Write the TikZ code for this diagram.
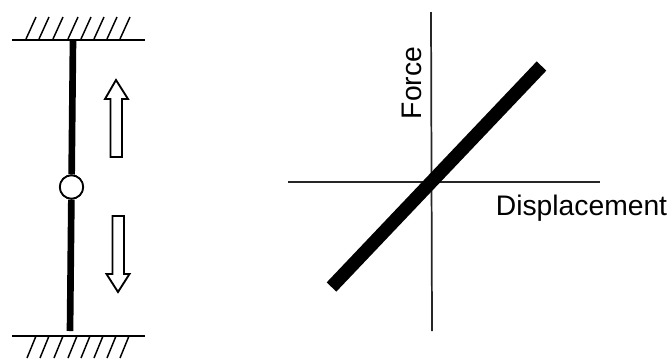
\documentclass[tikz,border=0pt]{standalone}
\usepackage{fontspec}
\setmainfont{Liberation Sans}
\usetikzlibrary{positioning,calc}
\tikzset{plate/.style={line width=1.4pt,draw=black},
  hatch/.style={line width=1.1pt,draw=black},
  rod/.style={line width=5pt,draw=black},
  axis/.style={line width=1.3pt,draw=black!85},
  load/.style={line width=1.4pt,draw=black,fill=white,line join=miter},
  hinge/.style={circle,draw=black,line width=1.3pt,fill=white,minimum size=17.5pt,inner sep=0pt},
  label/.style={font=\fontsize{21.2pt}{24pt}\selectfont,inner sep=0pt}}

\begin{document}
\begin{tikzpicture}[x=0.75pt,y=-0.75pt]
\useasboundingbox (0,0) rectangle (670,358);
% supports
\draw[plate] (12,40) -- (145,40);
\draw[plate] (12,336) -- (145,336);
\foreach \x in {26,39,53,68,81,94,107,120}
  \draw[hatch] (\x,39) -- (\x+10,17);
\foreach \x in {27,40,54,68,81,94,107,120}
  \draw[hatch] (\x,358) -- (\x+9,336);
% rod and hinge
\node[hinge] (hng) at (71.5,187) {};
\coordinate (rodtop) at (73,40);
\coordinate (rodbot) at (70,331);
\draw[rod] (rodtop) -- (hng);
\draw[rod] (hng) -- (rodbot);
\node[hinge] at (hng) {};
% load arrows
\draw[load] (116,80) -- (128,99) -- (122,99) -- (122,157) -- (110.5,157) -- (110.5,99) -- (105,99) -- cycle;
\draw[load] (118,292) -- (106.5,274) -- (112.5,274) -- (112.5,216) -- (124,216) -- (124,274) -- (129.5,274) -- cycle;
% force displacement plot
\coordinate (ytop) at (431,12);
\coordinate (ybot) at (432,331);
\coordinate (xlft) at (288,182);
\coordinate (xrgt) at (600,182);
\draw[axis] (ytop) -- (ybot);
\draw[axis] (xlft) -- (xrgt);
\coordinate (stifflo) at (331.5,287);
\coordinate (stiffhi) at (541.5,66);
\draw[line width=10pt] (stifflo) -- (stiffhi);
\node[label,rotate=90] (frc) at (412,83) {Force};
\node[label] (dsp) at (581.5,208) {Displacement};
\end{tikzpicture}
\end{document}
